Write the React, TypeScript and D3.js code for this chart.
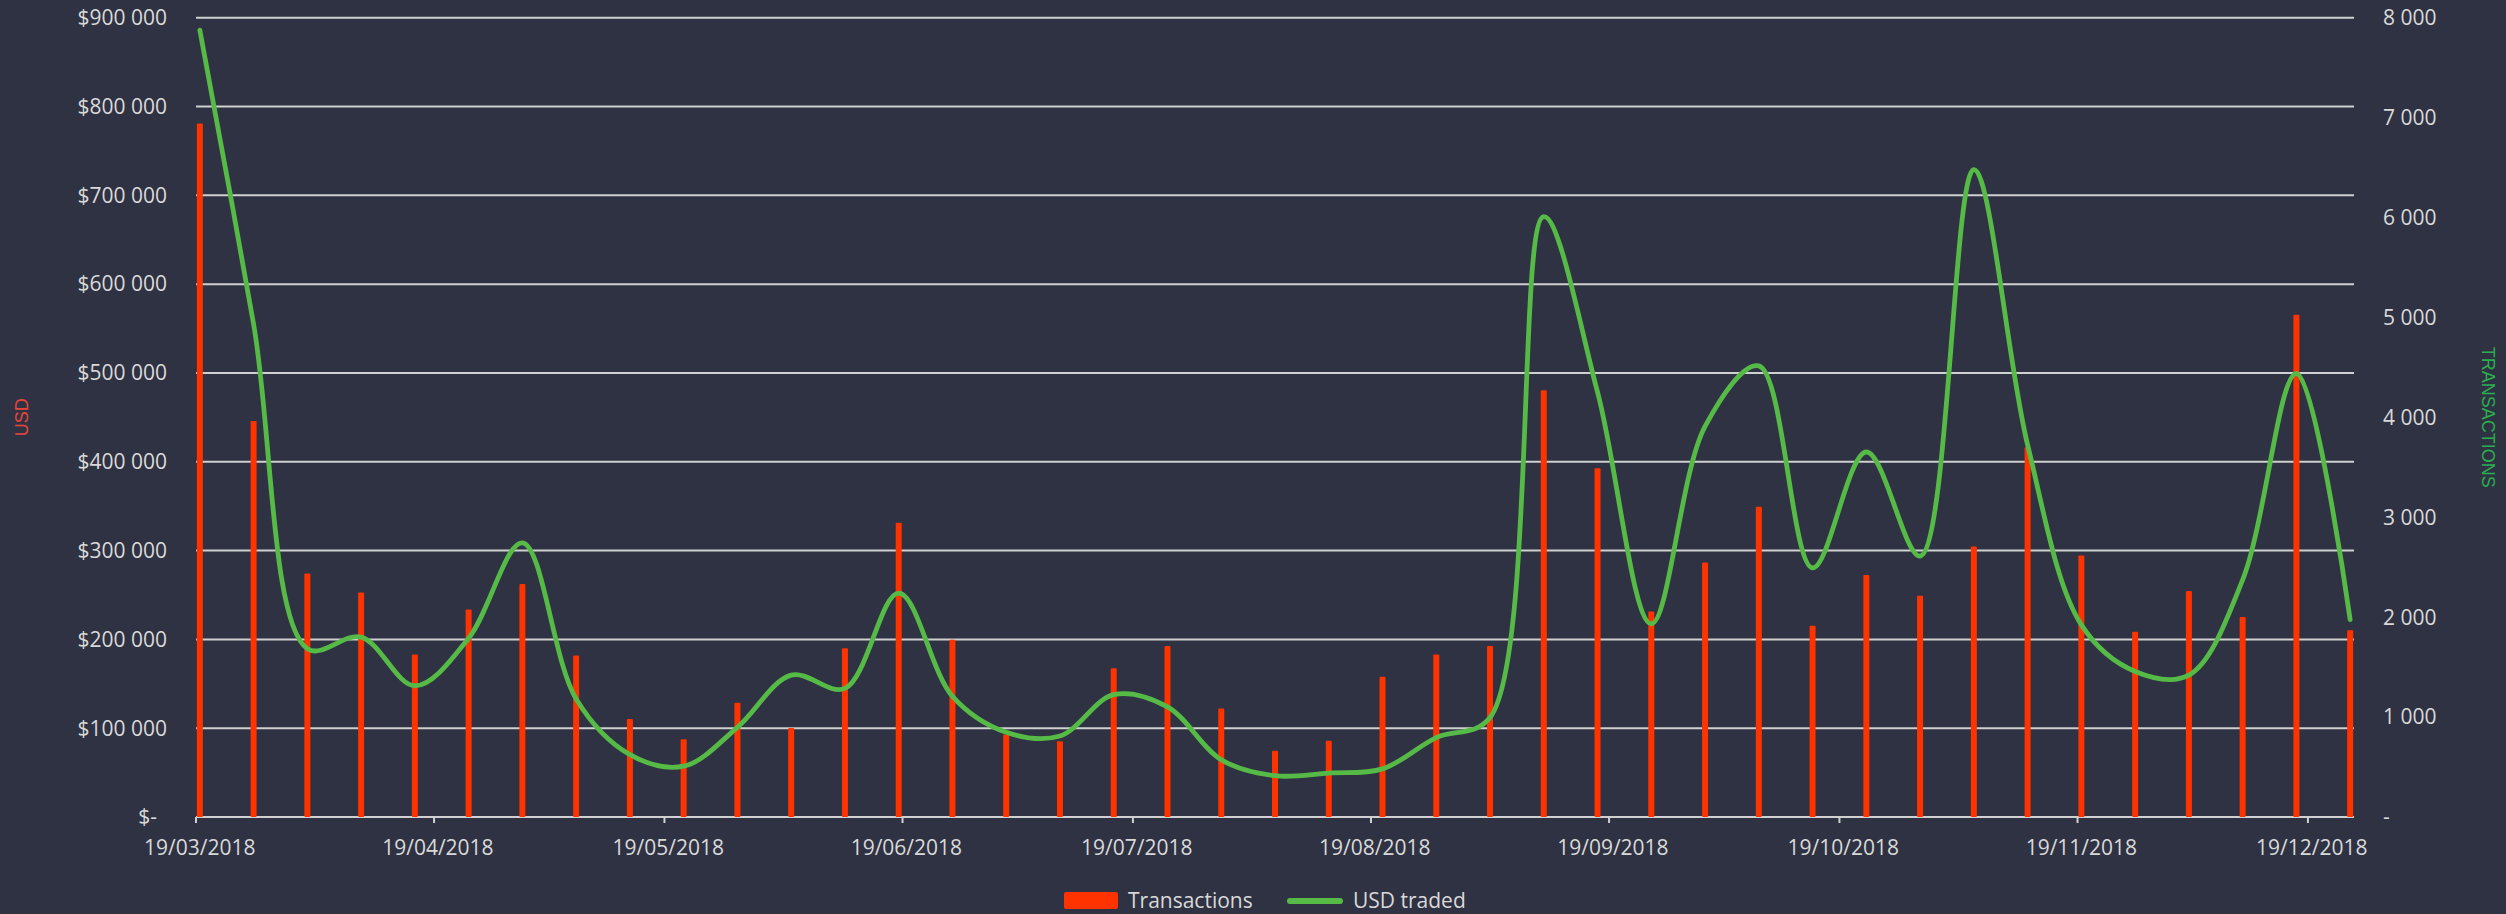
import React from "react";
import * as d3 from "d3";

// weekly buckets (monday), dd/mm/yyyy
const weeks = [
  "19/03/2018", "26/03/2018",
  "02/04/2018", "09/04/2018", "16/04/2018", "23/04/2018", "30/04/2018",
  "07/05/2018", "14/05/2018", "21/05/2018", "28/05/2018",
  "04/06/2018", "11/06/2018", "18/06/2018", "25/06/2018",
  "02/07/2018", "09/07/2018", "16/07/2018", "23/07/2018", "30/07/2018",
  "06/08/2018", "13/08/2018", "20/08/2018", "27/08/2018",
  "03/09/2018", "10/09/2018", "17/09/2018", "24/09/2018",
  "01/10/2018", "08/10/2018", "15/10/2018", "22/10/2018", "29/10/2018",
  "05/11/2018", "12/11/2018", "19/11/2018", "26/11/2018",
  "03/12/2018", "10/12/2018", "17/12/2018", "24/12/2018"
];

const transactions = [
  6940, 3963, 2437, 2246, 1626, 2077, 2331, 1616, 980, 779,
  1144, 890, 1690, 2946, 1775, 826, 758, 1489, 1711, 1086,
  662, 763, 1404, 1626, 1711, 4270, 3491, 2056, 2548, 3105,
  1913, 2421, 2215, 2707, 3700, 2617, 1854, 2262, 2003, 5028, 1870
];

const usdTraded = [
  886000, 555000, 189500, 202600, 147800, 201400, 308700, 132900, 70300, 57200,
  101000, 159700, 144800, 252000, 135900, 95400, 91200, 137700, 124000, 64400,
  46500, 49500, 54200, 89400, 112000, 676000, 478500, 217500, 439800, 508000,
  280500, 411000, 293800, 729000, 419000, 216300, 163900, 159700, 267000, 499400, 222300
];

const monthTicks = [
  "19/03/2018", "19/04/2018", "19/05/2018", "19/06/2018", "19/07/2018",
  "19/08/2018", "19/09/2018", "19/10/2018", "19/11/2018", "19/12/2018"
];

const W = 2506, H = 914;
const left = 196, right = 2354, top = 17.7, bottom = 817;
const bg = "#2f3242";
const grid = "#d0d0d0";
const labelColor = "#d9d9d9";
const barColor = "#ff3300";
const lineColor = "#56ba47";
const font = "'Open Sans', sans-serif";

const parse = d3.utcParse("%d/%m/%Y");
const halfDay = 12 * 3600 * 1000;
const noon = (s: string) => new Date(parse(s)!.getTime() + halfDay);

const locale = d3.formatLocale({ decimal: ".", thousands: " ", grouping: [3], currency: ["$", ""] });
const usdFormat = locale.format("$,.0f");
const countFormat = locale.format(",.0f");

export default function App() {
  const data = weeks.map((w, i) => ({ date: noon(w), count: transactions[i], usd: usdTraded[i] }));

  const x = d3.scaleUtc()
    .domain([parse(weeks[0])!, d3.utcDay.offset(parse(weeks[weeks.length - 1])!, 1)])
    .range([left, right]);
  const yUsd = d3.scaleLinear().domain([0, 900000]).range([bottom, top]);
  const yCount = d3.scaleLinear().domain([0, 8000]).range([bottom, top]);

  const line = d3.line<any>()
    .x(d => x(d.date))
    .y(d => yUsd(d.usd))
    .curve(d3.curveCatmullRom.alpha(0.5));

  const barW = 6;

  return (
    <svg width={W} height={H} style={{ position: "absolute", left: 0, top: 0, display: "block" }}>
      <rect width={W} height={H} fill={bg} />

      {/* gridlines + left labels */}
      {yUsd.ticks(9).map(t => (
        <g key={"l" + t}>
          <line x1={left} x2={right} y1={yUsd(t)} y2={yUsd(t)} stroke={grid} strokeWidth={2} />
          <text x={t === 0 ? 157 : 167} y={yUsd(t)} dy="0.35em" textAnchor="end"
            fill={labelColor} fontFamily={font} fontSize={21}>
            {t === 0 ? "$-" : usdFormat(t)}
          </text>
        </g>
      ))}

      {/* right labels */}
      {yCount.ticks(8).map(t => (
        <text key={"r" + t} x={2383} y={yCount(t)} dy="0.35em" textAnchor="start"
          fill={labelColor} fontFamily={font} fontSize={21}>
          {t === 0 ? "-" : countFormat(t)}
        </text>
      ))}

      {/* x axis ticks */}
      <line x1={left} x2={left} y1={bottom} y2={bottom + 6} stroke={grid} strokeWidth={2} />
      {monthTicks.map(m => (
        <g key={m}>
          {m !== monthTicks[0] &&
            <line x1={x(parse(m)!)} x2={x(parse(m)!)} y1={bottom} y2={bottom + 6} stroke={grid} strokeWidth={2} />}
          <text x={x(noon(m))} y={848} dy="0.35em" textAnchor="middle"
            fill={labelColor} fontFamily={font} fontSize={21}>{m}</text>
        </g>
      ))}

      {/* bars */}
      {data.map(d => (
        <rect key={"b" + d.date.getTime()} x={x(d.date) - barW / 2} y={yCount(d.count)}
          width={barW} height={bottom - yCount(d.count)} fill={barColor} rx={1} />
      ))}

      {/* smoothed line */}
      <path d={line(data) || ""} fill="none" stroke={lineColor} strokeWidth={4.8}
        strokeLinecap="round" strokeLinejoin="round" />

      {/* axis titles */}
      <text transform={`translate(22,${(top + bottom) / 2}) rotate(-90)`} textAnchor="middle" dy="0.35em"
        fill="#e8463b" fontFamily="'Liberation Sans', Arial, sans-serif" fontSize={18}>USD</text>
      <text transform={`translate(2488,${(top + bottom) / 2}) rotate(90)`} textAnchor="middle" dy="0.35em"
        fill="#2aae4f" fontFamily="'Liberation Sans', Arial, sans-serif" fontSize={18}>TRANSACTIONS</text>

      {/* legend */}
      <rect x={1064} y={892} width={54} height={17} rx={2} fill={barColor} />
      <text x={1128} y={901} dy="0.35em" fill={labelColor} fontFamily={font} fontSize={21}>Transactions</text>
      <line x1={1290} x2={1340} y1={901} y2={901} stroke={lineColor} strokeWidth={6} strokeLinecap="round" />
      <text x={1353} y={901} dy="0.35em" fill={labelColor} fontFamily={font} fontSize={21}>USD traded</text>
    </svg>
  );
}
